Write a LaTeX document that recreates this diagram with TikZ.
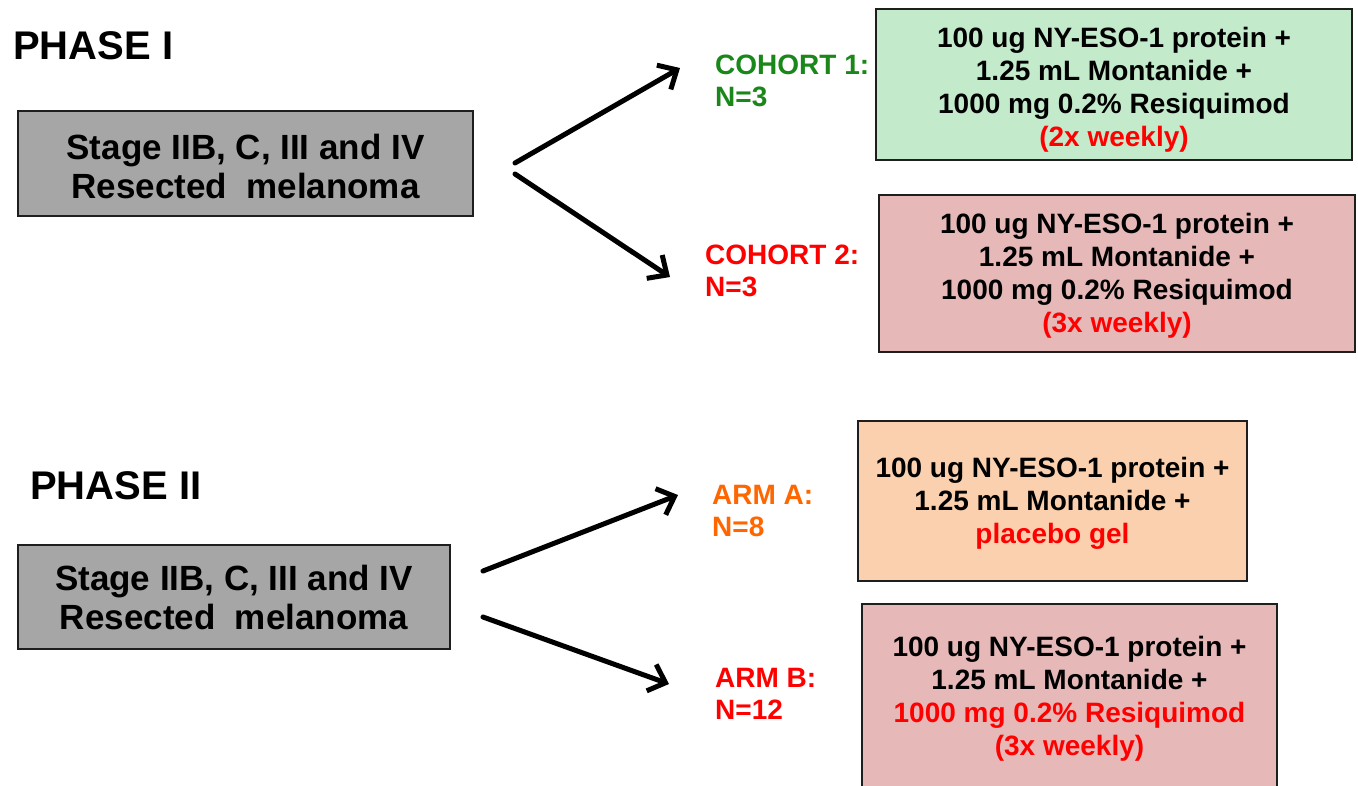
\documentclass[tikz,border=0pt]{standalone}
\usepackage{fontspec}
\setmainfont{Liberation Sans}
\usetikzlibrary{arrows.meta}
\definecolor{cgreen}{RGB}{25,135,25}
\definecolor{cred}{RGB}{255,0,0}
\definecolor{corange}{RGB}{255,102,0}
\definecolor{fgrey}{RGB}{166,166,166}
\definecolor{fgreen}{RGB}{196,234,204}
\definecolor{fpink}{RGB}{230,185,184}
\definecolor{forange}{RGB}{250,208,174}
\definecolor{bord}{RGB}{30,30,30}
\tikzset{
  box/.style={draw=bord, line width=1.6pt, inner sep=0pt, align=center},
  dosebox/.style={box, font=\bfseries\fontsize{28}{33}\selectfont},
  stagebox/.style={box, fill=fgrey, font=\bfseries\fontsize{35}{39}\selectfont},
  grouplabel/.style={anchor=north west, inner sep=0pt, align=left, font=\bfseries\fontsize{28}{32}\selectfont},
  phaselabel/.style={anchor=base west, inner sep=0pt, font=\bfseries\fontsize{40}{44}\selectfont},
  flow/.style={line width=5pt, line cap=round, -{Straight Barb[length=15pt,width=28pt,line width=5pt]}}
}
\begin{document}
\begin{tikzpicture}[x=1pt,y=-1pt]
\useasboundingbox (0,0) rectangle (1358,785);

% Phase I
\node[phaselabel] (ph1) at (13,59) {PHASE I};
\node[stagebox, minimum width=455pt, minimum height=105pt] (g1) at (245.5,163.5)
  {\rule{0pt}{32pt}Stage IIB, C, III and IV\\Resected\ \ melanoma};
\node[dosebox, fill=fgreen, minimum width=476pt, minimum height=151pt] (c1) at (1114,84.5)
  {\rule{0pt}{30pt}100 ug NY-ESO-1 protein +\\1.25 mL Montanide +\\1000 mg 0.2\% Resiquimod\\\textcolor{cred}{(2x weekly)}};
\node[dosebox, fill=fpink, minimum width=476pt, minimum height=157pt] (c2) at (1117,273.5)
  {\rule{0pt}{24pt}100 ug NY-ESO-1 protein +\\1.25 mL Montanide +\\1000 mg 0.2\% Resiquimod\\\textcolor{cred}{(3x weekly)}};
\node[grouplabel, text=cgreen] (l1) at (715,55) {COHORT 1:\\N=3};
\node[grouplabel, text=cred] (l2) at (705,245) {COHORT 2:\\N=3};

\coordinate (p1s) at (515,163);
\coordinate (p1e) at (680,68);
\coordinate (p2s) at (515,174);
\coordinate (p2e) at (670,277);
\draw[flow] (p1s) -- (p1e);
\draw[flow] (p2s) -- (p2e);

% Phase II
\node[phaselabel] (ph2) at (30,499) {PHASE II};
\node[stagebox, minimum width=432pt, minimum height=104pt] (g2) at (234,597)
  {Stage IIB, C, III and IV\\Resected\ \ melanoma};
\node[dosebox, fill=forange, minimum width=389pt, minimum height=160pt] (aA) at (1052.5,501)
  {\rule{0pt}{24pt}100 ug NY-ESO-1 protein +\\1.25 mL Montanide +\\\textcolor{cred}{placebo gel}};
\node[dosebox, fill=fpink, minimum width=415pt, minimum height=190pt] (aB) at (1069.5,699)
  {100 ug NY-ESO-1 protein +\\1.25 mL Montanide +\\\textcolor{cred}{1000 mg 0.2\% Resiquimod}\\\textcolor{cred}{(3x weekly)}};
\node[grouplabel, text=corange] (lA) at (712,485) {ARM A:\\N=8};
\node[grouplabel, text=cred] (lB) at (715,668) {ARM B:\\N=12};

\coordinate (q1s) at (483,571);
\coordinate (q1e) at (678,495);
\coordinate (q2s) at (483,617);
\coordinate (q2e) at (669,684);
\draw[flow] (q1s) -- (q1e);
\draw[flow] (q2s) -- (q2e);
\end{tikzpicture}
\end{document}
